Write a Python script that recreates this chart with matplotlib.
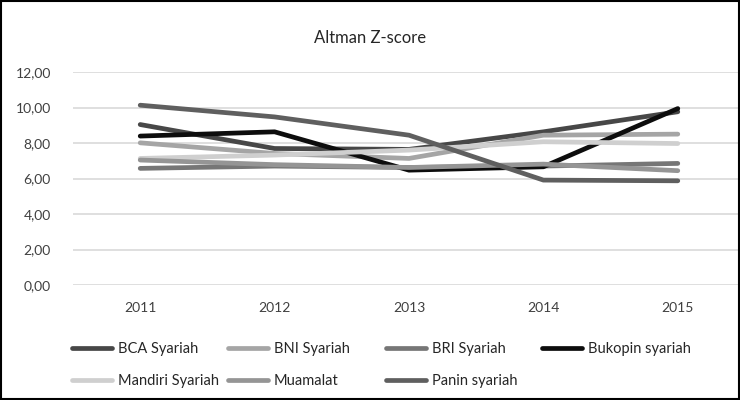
import matplotlib.pyplot as plt
from matplotlib.patches import Rectangle

plt.rcParams['font.family'] = ['Lato', 'DejaVu Sans']

years = ['2011', '2012', '2013', '2014', '2015']
banks = ['BCA Syariah', 'BNI Syariah', 'BRI Syariah', 'Bukopin syariah',
         'Mandiri Syariah', 'Muamalat', 'Panin syariah']

bca = [9.04, 7.69, 7.64, 8.63, 9.76]
bni = [8.01, 7.41, 7.13, 8.44, 8.50]
bri = [6.57, 6.70, 6.62, 6.70, 6.85]
bukopin = [8.39, 8.63, 6.47, 6.66, 9.94]
mandiri = [7.13, 7.32, 7.60, 8.07, 7.97]
muamalat = [7.04, 6.78, 6.62, 6.81, 6.44]
panin = [10.13, 9.47, 8.44, 5.91, 5.87]

series = [bca, bni, bri, bukopin, mandiri, muamalat, panin]
colors = ['#474747', '#a5a5a5', '#767676', '#0d0d0d', '#cfcfcf', '#959595', '#5f5f5f']

fig = plt.figure(figsize=(7.4, 4), dpi=100)
ax = fig.add_axes([73 / 740, 1 - 285 / 400, 672 / 740, 213 / 400])

x = range(len(years))
handles = []
for vals, col, name in zip(series, colors, banks):
    h, = ax.plot(x, vals, color=col, lw=3.4, solid_capstyle='round', label=name)
    handles.append(h)

ax.set_xlim(-0.5, 4.5)
ax.set_ylim(0, 12)
ax.set_yticks(range(0, 13, 2))
ax.set_yticklabels([f'{v:.2f}'.replace('.', ',') for v in range(0, 13, 2)], fontsize=10, color='#404040')
ax.set_xticks(list(x))
ax.set_xticklabels(years, fontsize=10, color='#404040')
ax.tick_params(length=0)
ax.tick_params(axis='y', pad=16)
ax.tick_params(axis='x', pad=12)
ax.grid(axis='y', color='#d9d9d9', lw=1.2)
ax.set_axisbelow(True)
for s in ax.spines.values():
    s.set_visible(False)

fig.text(0.5, 1 - 38 / 400, 'Altman Z-score', ha='center', va='center', fontsize=12, color='#262626')

# legend laid out in equal-width columns like the original
col_x = [66, 222, 380, 536]
for i, cx in enumerate(col_x):
    idx = [j for j in (i, i + 4) if j < len(handles)]
    fig.legend([handles[j] for j in idx], [banks[j] for j in idx],
               loc='upper left', bbox_to_anchor=(cx / 740, 1 - 336 / 400),
               frameon=False, fontsize=10.5, handlelength=2.75, handletextpad=0.4,
               labelspacing=1.25, borderaxespad=0, labelcolor='#262626')

fig.patches.append(Rectangle((0.001, 0.002), 0.998, 0.996, transform=fig.transFigure,
                             fill=False, ec='black', lw=1.5))

fig.savefig('out.png', dpi=100)
